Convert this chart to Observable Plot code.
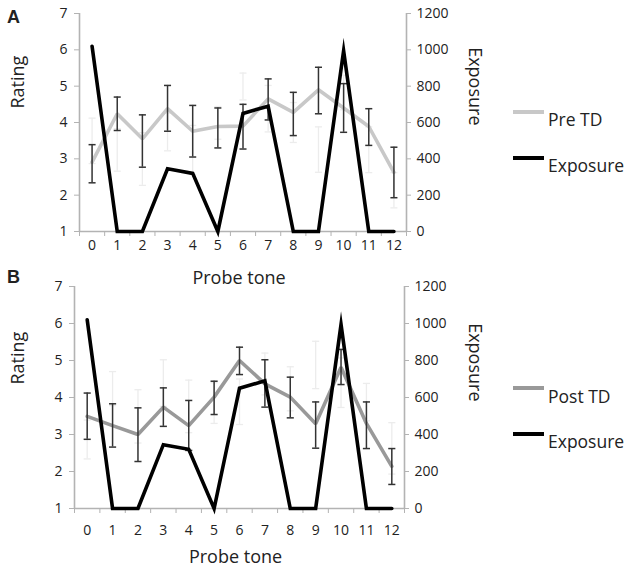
<!DOCTYPE html>
<html>
<head>
<meta charset="utf-8">
<script src="https://cdn.jsdelivr.net/npm/d3@7"></script>
<script src="https://cdn.jsdelivr.net/npm/@observablehq/plot@0.6"></script>
<style>
  html, body { margin: 0; padding: 0; background: #fff; }
  #wrap { position: relative; width: 630px; height: 574px; font-family: "Open Sans", sans-serif; color: #222; }
  .panel { position: absolute; left: 0; }
  .tag { position: absolute; font-family: "Liberation Sans", Arial, sans-serif; font-weight: bold; font-size: 18px; line-height: 1; }
  .leg { position: absolute; font-size: 17.5px; line-height: 1; white-space: nowrap; }
  .legline { position: absolute; height: 4px; width: 31px; }
</style>
</head>
<body>
<div id="wrap"></div>
<script>
// ---- data ----
const tones = [0, 1, 2, 3, 4, 5, 6, 7, 8, 9, 10, 11, 12];
const exposure = [1020, 0, 0, 345, 320, 0, 650, 690, 0, 0, 995, 0, 0];
const preMean = [2.91, 4.24, 3.55, 4.38, 3.76, 3.89, 3.90, 4.65, 4.28, 4.90, 4.40, 3.89, 2.63];
const preLow  = [2.34, 3.78, 2.77, 3.76, 3.05, 3.30, 3.27, 4.07, 3.64, 4.24, 3.73, 3.37, 1.93];
const preHigh = [3.39, 4.70, 4.21, 5.02, 4.47, 4.40, 4.50, 5.20, 4.83, 5.52, 5.07, 4.38, 3.32];
const postMean = [3.49, 3.24, 3.00, 3.74, 3.24, 4.01, 5.00, 4.37, 4.01, 3.29, 4.82, 3.30, 2.14];
const postLow  = [2.87, 2.66, 2.27, 3.22, 2.57, 3.54, 4.62, 3.74, 3.45, 2.63, 4.35, 2.62, 1.65];
const postHigh = [4.12, 3.83, 3.72, 4.26, 3.92, 4.44, 5.36, 5.02, 4.55, 3.88, 5.30, 3.88, 2.62];
const ratingTicks = [1, 2, 3, 4, 5, 6, 7];
const exposureTicks = [0, 200, 400, 600, 800, 1000, 1200];
const legendA = ["Pre TD", "Exposure"];
const legendB = ["Post TD", "Exposure"];
const panelTags = ["A", "B"];

// exposure axis shares the rating axis: 200 exposure units per rating unit, 0 at rating 1
const EXP_PER_UNIT = 200;
const expToRating = e => 1 + e / EXP_PER_UNIT;

const AXIS = "#b3b3b3";
const BAR = "#333";
const GHOST = "#ececec";

function panel(cfg) {
  const rows = tones.map((t, i) => ({
    tone: t, mean: cfg.mean[i], low: cfg.low[i], high: cfg.high[i],
    gl: cfg.ghostLow[i], gh: cfg.ghostHigh[i], exp: exposure[i]
  }));
  const bounds = tones.map(t => t - 0.5).concat([tones[tones.length - 1] + 0.5]);
  const cap = 0.14;
  return Plot.plot({
    width: 630,
    height: cfg.height,
    marginTop: cfg.mt, marginBottom: cfg.mb, marginLeft: cfg.ml, marginRight: cfg.mr,
    style: { fontFamily: "Open Sans", fontSize: "14px", overflow: "visible", background: "transparent", color: "#222" },
    x: { domain: [bounds[0], bounds[bounds.length - 1]] },
    y: { domain: [1, 7] },
    marks: [
      // faint ghost error bars
      Plot.ruleX(rows, { x: "tone", y1: "gl", y2: "gh", stroke: GHOST, strokeWidth: 1.3 }),
      Plot.link(rows, { x1: d => d.tone - cap, x2: d => d.tone + cap, y1: "gl", y2: "gl", stroke: GHOST, strokeWidth: 1.3 }),
      Plot.link(rows, { x1: d => d.tone - cap, x2: d => d.tone + cap, y1: "gh", y2: "gh", stroke: GHOST, strokeWidth: 1.3 }),
      // axis lines
      Plot.ruleY([1], { stroke: AXIS, strokeWidth: 1.6 }),
      Plot.ruleX([bounds[0]], { stroke: AXIS, strokeWidth: 1.6 }),
      Plot.ruleX([bounds[bounds.length - 1]], { stroke: AXIS, strokeWidth: 1.6 }),
      Plot.axisY({ ticks: ratingTicks, anchor: "left", tickSize: 5, tickPadding: cfg.leftPad, stroke: AXIS, fill: "#222", label: null, fontSize: 14,
        tickFormat: d => String(d) }),
      Plot.axisY({ ticks: exposureTicks.map(expToRating), anchor: "right", tickSize: 4, tickPadding: 6, stroke: AXIS, fill: "#222", label: null, fontSize: 14,
        tickFormat: d => String(Math.round((d - 1) * EXP_PER_UNIT)) }),
      Plot.axisX({ ticks: bounds, tickSize: 5, tickFormat: () => "", stroke: AXIS, label: null }),
      Plot.axisX({ ticks: tones, tickSize: 0, tickPadding: cfg.xPad, fill: "#222", label: null, fontSize: 14, tickFormat: d => String(d) }),
      // rating line
      Plot.lineY(rows, { x: "tone", y: "mean", stroke: cfg.color, strokeWidth: 3.6, strokeLinejoin: "miter" }),
      // error bars
      Plot.ruleX(rows, { x: "tone", y1: "low", y2: "high", stroke: BAR, strokeWidth: 1.5 }),
      Plot.link(rows, { x1: d => d.tone - cap, x2: d => d.tone + cap, y1: "low", y2: "low", stroke: BAR, strokeWidth: 1.5 }),
      Plot.link(rows, { x1: d => d.tone - cap, x2: d => d.tone + cap, y1: "high", y2: "high", stroke: BAR, strokeWidth: 1.5 }),
      // exposure line
      Plot.line(rows, { x: "tone", y: d => expToRating(d.exp), stroke: "#000", strokeWidth: 3.6, strokeLinejoin: "miter", strokeMiterlimit: 10 }),
      // axis titles
      Plot.text(["Rating"], { frameAnchor: "left", dx: cfg.ratingDx, dy: cfg.ratingDy, rotate: -90, fontSize: 18, fill: "#222" }),
      Plot.text(["Exposure"], { frameAnchor: "right", dx: cfg.expDx, dy: cfg.expDy, rotate: 90, fontSize: 18, fill: "#222" }),
      Plot.text(["Probe tone"], { frameAnchor: "bottom", dx: -4, dy: cfg.probeDy, fontSize: 18, fill: "#222" })
    ]
  });
}

const wrap = document.getElementById("wrap");

const A = panel({
  mean: preMean, low: preLow, high: preHigh, ghostLow: postLow, ghostHigh: postHigh,
  color: "#c8c8c8", height: 274, mt: 13, mb: 43, ml: 79, mr: 224,
  leftPad: 7, xPad: 9, ratingDx: -61, ratingDy: -14, expDx: 68, expDy: 3, probeDy: 52
});
A.classList.add("panel"); A.style.top = "0px";
wrap.appendChild(A);

const B = panel({
  mean: postMean, low: postLow, high: postHigh, ghostLow: preLow, ghostHigh: preHigh,
  color: "#999999", height: 300, mt: 12, mb: 66, ml: 74, mr: 226,
  leftPad: 7, xPad: 17, ratingDx: -56, ratingDy: -13, expDx: 70, expDy: 4, probeDy: 54
});
B.classList.add("panel"); B.style.top = "274px";
wrap.appendChild(B);

// panel tags
[[panelTags[0], 7, 8], [panelTags[1], 7, 268]].forEach(([t, x, y]) => {
  const d = document.createElement("div");
  d.className = "tag"; d.textContent = t; d.style.left = x + "px"; d.style.top = y + "px";
  wrap.appendChild(d);
});

// legends
function legend(names, colors, lineYs, textYs) {
  names.forEach((n, i) => {
    const l = document.createElement("div");
    l.className = "legline"; l.style.left = "513px"; l.style.top = (lineYs[i] - 2) + "px"; l.style.background = colors[i];
    wrap.appendChild(l);
    const t = document.createElement("div");
    t.className = "leg"; t.textContent = n; t.style.left = "548px"; t.style.top = (textYs[i] - 9) + "px";
    wrap.appendChild(t);
  });
}
legend(legendA, ["#c8c8c8", "#000"], [112, 158], [120, 166]);
legend(legendB, ["#999999", "#000"], [388, 434], [397, 442]);
</script>
</body>
</html>
